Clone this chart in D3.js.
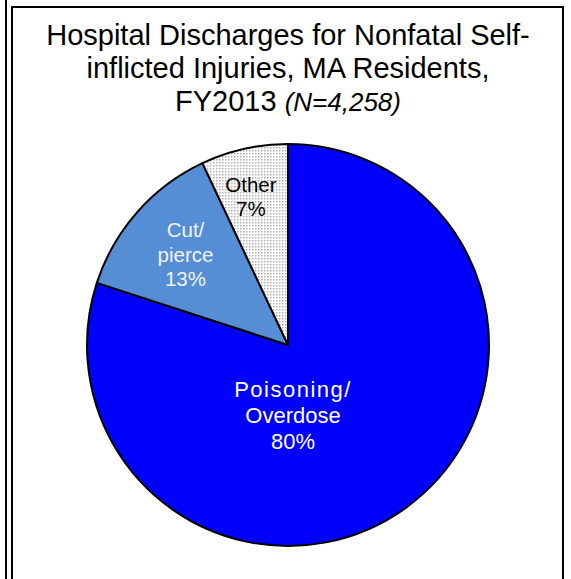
<!DOCTYPE html>
<head>
  <meta charset="utf-8">
  <script src="https://d3js.org/d3.v7.min.js"></script>
  <style>
    body { margin:0; background:#fff; }
    text { font-family: "Liberation Sans", Arial, sans-serif; }
  </style>
</head>
<body>
<script>
  // données
  var categories = ["Poisoning/Overdose", "Cut/pierce", "Other"];
  var pourcentages = [80, 13, 7];
  var etiquettes = [["Poisoning/", "Overdose", "80%"], ["Cut/", "pierce", "13%"], ["Other", "7%"]];
  var couleurs = ["#0000ff", "#558ed5", "url(#dots)"];
  var couleursTexte = ["#ffffff", "#f2f2f2", "#000000"];

  var width = 571, height = 579;
  var cx = 288, cy = 345, rayon = 201;

  var svg = d3.select("body").append("svg")
    .attr("width", width)
    .attr("height", height);

  // motif pointillé pour "Other"
  var pat = svg.append("defs").append("pattern")
    .attr("id", "dots")
    .attr("patternUnits", "userSpaceOnUse")
    .attr("width", 3).attr("height", 3);
  pat.append("rect").attr("width", 3).attr("height", 3).attr("fill", "#ffffff");
  pat.append("rect").attr("width", 1.5).attr("height", 1.5).attr("fill", "#b0b0b0");

  // cadres
  svg.append("line")
    .attr("x1", 6).attr("x2", 6).attr("y1", 0).attr("y2", height)
    .attr("stroke", "#000").attr("stroke-width", 2);
  svg.append("rect")
    .attr("x", 12).attr("y", 7).attr("width", 551).attr("height", height + 20)
    .attr("fill", "none").attr("stroke", "#000").attr("stroke-width", 2);

  // titre
  var titre = svg.append("text")
    .attr("text-anchor", "middle")
    .attr("font-size", 29)
    .attr("fill", "#000");
  titre.append("tspan").attr("x", 288).attr("y", 45).text("Hospital Discharges for Nonfatal Self-");
  titre.append("tspan").attr("x", 288).attr("y", 78).text("inflicted Injuries, MA Residents,");
  var l3 = titre.append("tspan").attr("x", 288).attr("y", 111);
  l3.append("tspan").text("FY2013 ");
  l3.append("tspan").attr("font-style", "italic").attr("font-size", 26).text("(N=4,258)");

  var pie = d3.pie().sort(null).value(function(d) { return d; });
  var arc = d3.arc().innerRadius(0).outerRadius(rayon);
  var arcs = pie(pourcentages);

  var g = svg.append("g").attr("transform", "translate(" + cx + "," + cy + ")");

  g.selectAll("path.slice")
    .data(arcs)
    .enter().append("path")
    .attr("class", "slice")
    .attr("d", arc)
    .attr("fill", function(d, i) { return couleurs[i]; })
    .attr("stroke", "#000")
    .attr("stroke-width", 2)
    .attr("stroke-linejoin", "round");

  // positions des étiquettes (rayon relatif + petit décalage)
  var rayonsLabel = [0, 0.68, 0.755];
  var decalages = [[5, 70], [0, 0], [-4, 0]];
  var tailles = [22, 20.5, 20.5];
  var interlignes = [26, 24.5, 24];

  g.selectAll("text.lab")
    .data(arcs)
    .enter().append("text")
    .attr("class", "lab")
    .attr("text-anchor", "middle")
    .attr("font-size", function(d, i) { return tailles[i]; })
    .attr("fill", function(d, i) { return couleursTexte[i]; })
    .each(function(d, i) {
      var r = rayonsLabel[i] * rayon * 2;
      var c = d3.arc().innerRadius(0).outerRadius(r).centroid(d);
      var x = c[0] + decalages[i][0], y = c[1] + decalages[i][1];
      var lignes = etiquettes[i];
      var t = d3.select(this);
      var y0 = y - (lignes.length - 1) * interlignes[i] / 2;
      lignes.forEach(function(l, k) {
        t.append("tspan")
          .attr("x", x)
          .attr("y", y0 + k * interlignes[i])
          .attr("dy", "0.35em")
          .attr("letter-spacing", (i == 0 && k == 0) ? 1.5 : 0)
          .text(l);
      });
    });
</script>
</body>
